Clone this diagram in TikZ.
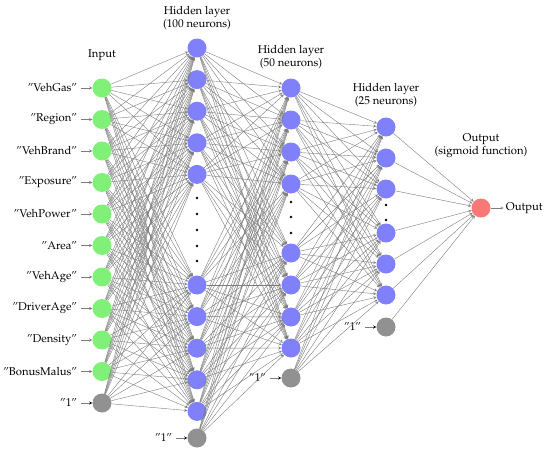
\documentclass[tikz,border=0pt]{standalone}
\usepackage[T1]{fontenc}
\usepackage{mathpazo}
\usetikzlibrary{positioning}

\definecolor{ingreen}{RGB}{128,240,120}
\definecolor{hidblue}{RGB}{128,128,250}
\definecolor{outred}{RGB}{248,120,120}
\definecolor{biasgray}{RGB}{145,145,145}
\definecolor{wiregray}{RGB}{125,125,125}

\begin{document}
\begin{tikzpicture}[x=1pt,y=-1pt,>=stealth,font=\fontsize{11.3}{13}\selectfont,
  neuron/.style={circle,minimum size=19pt,inner sep=0pt},
  inp/.style={neuron,fill=ingreen},
  hid/.style={neuron,fill=hidblue},
  bias/.style={neuron,fill=biasgray},
  outp/.style={neuron,fill=outred},
  wire/.style={->,draw=wiregray,line width=0.4pt},
  tag/.style={inner sep=2pt},
  layerlabel/.style={align=center}]

\useasboundingbox (0,0) rectangle (550,450);

% input layer
\foreach \y [count=\k] in {88,119.5,151,182.5,214,245.5,277,308.5,340,371.5}
  \node[inp] (i\k) at (102,\y) {};
\node[bias] (ib) at (102,403) {};

% hidden layer 1
\foreach \y [count=\k] in {48,79.6,111.2,142.8,174.4,285,316.6,348.2,379.8,411.4}
  \node[hid] (a\k) at (197,\y) {};
\node[bias] (ab) at (197,438) {};
\foreach \y in {198,214,230,246,261} \fill (197,\y) circle (1.3pt);

% hidden layer 2
\foreach \y [count=\k] in {88,120,152,184,253,285,317,348}
  \node[hid] (b\k) at (291,\y) {};
\node[bias] (bb) at (291,378) {};
\foreach \y in {202,217,233} \fill (291,\y) circle (1.3pt);

% hidden layer 3
\foreach \y [count=\k] in {127,158,189,233,264,295}
  \node[hid] (c\k) at (386,\y) {};
\node[bias] (cb) at (386,327) {};
\foreach \y in {205,220} \fill (386,\y) circle (1.3pt);

% output
\node[outp] (o) at (481,208) {};

% layer titles
\node[layerlabel,above=14pt of i1] (tin) {Input};
\node[layerlabel,above=5pt of a1] (ta) {Hidden layer\\(100 neurons)};
\node[layerlabel,above=6pt of b1] (tb) {Hidden layer\\(50 neurons)};
\node[layerlabel,above=7pt of c1] (tc) {Hidden layer\\(25 neurons)};
\node[layerlabel,above=37pt of o] (to) {Output\\(sigmoid function)};

% input names
\foreach \t [count=\k] in {VehGas,Region,VehBrand,Exposure,VehPower,Area,VehAge,DriverAge,Density,BonusMalus}{
  \node[tag,left=13pt of i\k] (n\k) {''\t''};
  \draw[wire,shorten <=2pt] (n\k) -- (i\k);
}
\node[tag,left=13pt of ib] (nib) {''1''};
\node[tag,left=13pt of ab] (nab) {''1''};
\node[tag,left=13pt of bb] (nbb) {''1''};
\node[tag,left=13pt of cb] (ncb) {''1''};
\node[tag,right=13pt of o] (no) {Output};
\path[wire,shorten <=2pt] (nib) edge (ib) (nab) edge (ab) (nbb) edge (bb)
            (ncb) edge (cb);
\draw[wire] (o) -- (no);

% connections
\foreach \s in {1,...,10,b}
  \foreach \t in {1,...,10}
    \draw[wire] (i\s) -- (a\t);
\foreach \s in {1,...,10,b}
  \foreach \t in {1,...,8}
    \draw[wire] (a\s) -- (b\t);
\foreach \s in {1,...,8,b}
  \foreach \t in {1,...,6}
    \draw[wire] (b\s) -- (c\t);
\foreach \s in {1,...,6,b}
  \draw[wire] (c\s) -- (o);

\end{tikzpicture}
\end{document}
